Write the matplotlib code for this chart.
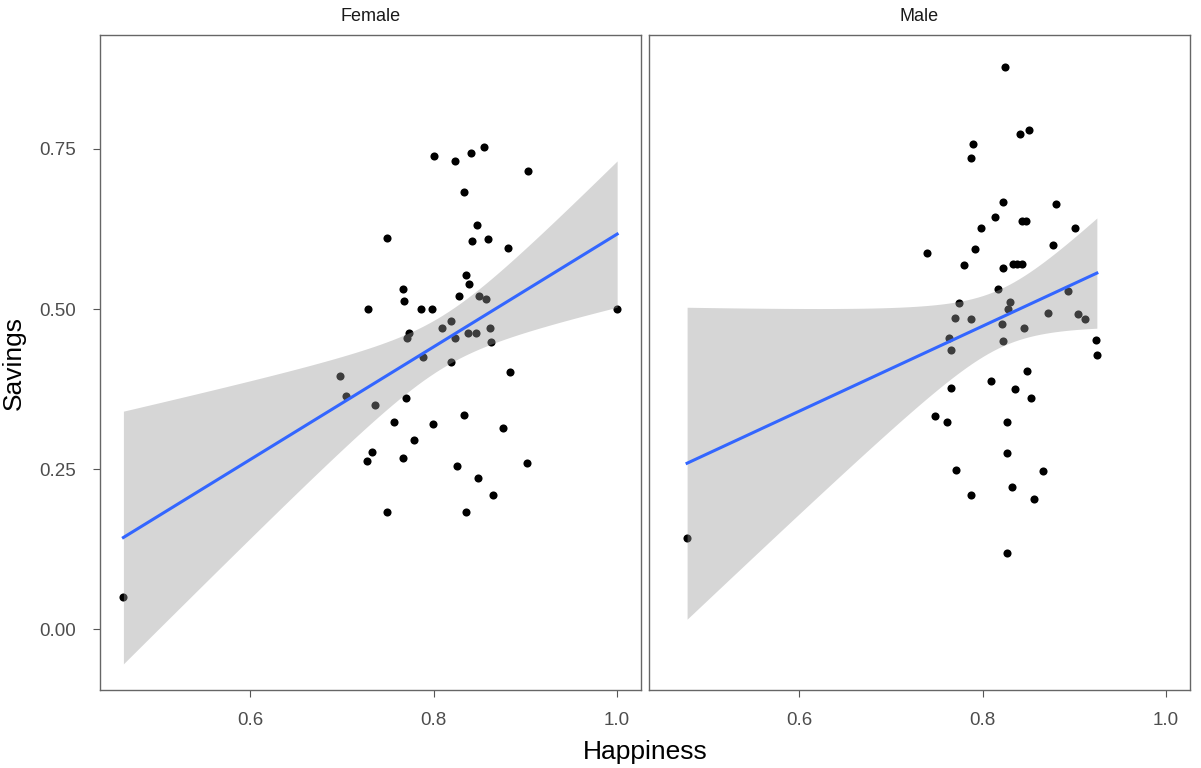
import numpy as np
import matplotlib
matplotlib.use("Agg")
import matplotlib.pyplot as plt

plt.rcParams['font.family'] = ['Liberation Sans', 'DejaVu Sans']

panels = ["Female", "Male"]

female_happiness = [0.462, 0.698, 0.705, 0.729, 0.7326, 0.7272, 0.7366, 0.7493, 0.7497, 0.7573,
                    0.7664, 0.7678, 0.7664, 0.7700, 0.7736, 0.7714, 0.7791, 0.7867, 0.7889, 0.798,
                    0.7995, 0.800, 0.809, 0.8187, 0.8187, 0.8234, 0.8238, 0.8256, 0.8275, 0.8329,
                    0.8329, 0.8351, 0.8351, 0.8373, 0.8387, 0.8405, 0.8423, 0.8463, 0.8478, 0.8479,
                    0.8492, 0.8554, 0.8569, 0.8591, 0.861, 0.8627, 0.8643, 0.8752, 0.8812, 0.8828,
                    0.9014, 0.9033, 1.000]
female_savings = [0.050, 0.396, 0.364, 0.500, 0.276, 0.2625, 0.3505, 0.611, 0.183, 0.324,
                  0.532, 0.5125, 0.268, 0.361, 0.463, 0.454, 0.295, 0.4995, 0.4245, 0.4995,
                  0.321, 0.739, 0.471, 0.481, 0.417, 0.731, 0.454, 0.2547, 0.521, 0.683,
                  0.334, 0.553, 0.183, 0.4625, 0.539, 0.744, 0.606, 0.4625, 0.632, 0.236,
                  0.521, 0.753, 0.515, 0.609, 0.471, 0.449, 0.210, 0.3136, 0.596, 0.4016,
                  0.260, 0.715, 0.500]

male_happiness = [0.478, 0.7392, 0.7482, 0.7616, 0.7631, 0.7653, 0.7653, 0.7704, 0.7708, 0.7744,
                  0.7802, 0.7871, 0.7893, 0.7871, 0.7871, 0.7915, 0.7984, 0.8096, 0.8133, 0.8169,
                  0.8209, 0.8227, 0.8227, 0.8227, 0.8245, 0.8264, 0.8264, 0.8264, 0.8274, 0.830,
                  0.8322, 0.8329, 0.8358, 0.8379, 0.8409, 0.8427, 0.8427, 0.8449, 0.8474, 0.8485,
                  0.8507, 0.8525, 0.8561, 0.8656, 0.8711, 0.8765, 0.8801, 0.8935, 0.9008, 0.9044,
                  0.9117, 0.9234, 0.9245]
male_savings = [0.142, 0.5875, 0.3323, 0.324, 0.455, 0.4354, 0.377, 0.4864, 0.249, 0.509,
                0.569, 0.7365, 0.758, 0.484, 0.209, 0.593, 0.627, 0.388, 0.643, 0.532,
                0.476, 0.6677, 0.5635, 0.4495, 0.8777, 0.324, 0.2755, 0.1187, 0.500, 0.511,
                0.2224, 0.570, 0.3745, 0.571, 0.7734, 0.571, 0.638, 0.471, 0.638, 0.4036,
                0.779, 0.3614, 0.2036, 0.247, 0.494, 0.6005, 0.6646, 0.5286, 0.627, 0.4917,
                0.484, 0.4516, 0.4276]

x_ticks = [0.6, 0.8, 1.0]
x_tick_labels = ["0.6", "0.8", "1.0"]
y_ticks = [0.0, 0.25, 0.5, 0.75]
y_tick_labels = ["0.00", "0.25", "0.50", "0.75"]


def lm_band(x, y, n=80, tq=2.00758):
    x = np.asarray(x, float)
    y = np.asarray(y, float)
    X = np.column_stack([np.ones_like(x), x])
    beta, *_ = np.linalg.lstsq(X, y, rcond=None)
    resid = y - X @ beta
    s2 = resid @ resid / (len(x) - 2)
    XtXi = np.linalg.inv(X.T @ X)
    xs = np.linspace(x.min(), x.max(), n)
    Xs = np.column_stack([np.ones_like(xs), xs])
    fit = Xs @ beta
    se = np.sqrt(np.einsum('ij,jk,ik->i', Xs, XtXi, Xs) * s2)
    return xs, fit, fit - tq * se, fit + tq * se


W, H = 1201, 768
fig = plt.figure(figsize=(W / 100, H / 100), dpi=100)
fig.patch.set_facecolor("white")

panel_px = [(100, 641), (649, 1190)]
top_px, bot_px = 35, 690
xlim = (0.4365, 1.026)
ylim = (-0.095, 0.928)

data = [(female_happiness, female_savings), (male_happiness, male_savings)]

for i, (name, (xv, yv), (l, r)) in enumerate(zip(panels, data, panel_px)):
    ax = fig.add_axes([l / W, 1 - bot_px / H, (r - l) / W, (bot_px - top_px) / H])
    ax.scatter(xv, yv, s=34, color="black", linewidths=0, zorder=2)
    xs, fit, lo, hi = lm_band(xv, yv)
    ax.fill_between(xs, lo, hi, color="#999999", alpha=0.4, linewidth=0, zorder=3)
    ax.plot(xs, fit, color="#3366FF", linewidth=2.2, zorder=4)
    ax.set_xlim(*xlim)
    ax.set_ylim(*ylim)
    ax.set_xticks(x_ticks)
    ax.set_xticklabels(x_tick_labels)
    ax.set_yticks(y_ticks)
    if i == 0:
        ax.set_yticklabels(y_tick_labels)
        ax.tick_params(axis="y", length=5, color="#555555", labelsize=13.5, labelcolor="#4d4d4d", pad=12)
    else:
        ax.tick_params(axis="y", left=False, labelleft=False)
    ax.tick_params(axis="x", length=5, color="#555555", labelsize=13.5, labelcolor="#4d4d4d", pad=11)
    for sp in ax.spines.values():
        sp.set_color("#666666")
        sp.set_linewidth(1.0)
    ax.set_title(name, fontsize=13, color="#1a1a1a", pad=10)
    if i == 0:
        ax.set_ylabel("Savings", fontsize=19, color="black", labelpad=10)

fig.text((100 + 1190) / 2 / W, 1 - 752 / H, "Happiness", ha="center", va="center", fontsize=19, color="black")

fig.savefig("out.png", dpi=100, facecolor="white")
